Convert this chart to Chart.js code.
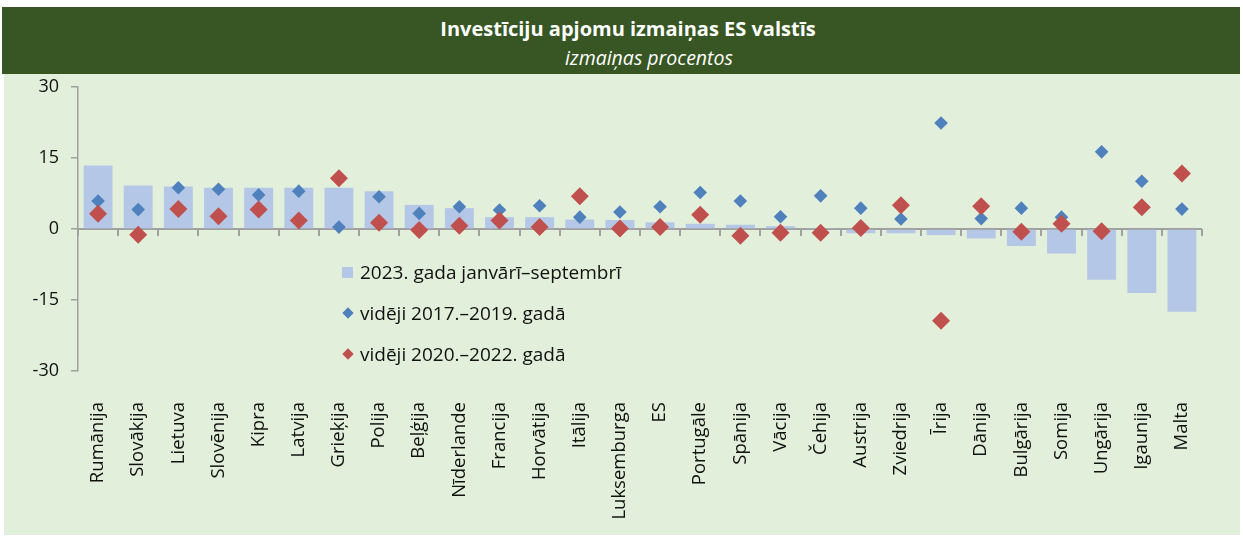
<!DOCTYPE html>
<html>
<head>
<meta charset="utf-8">
<script src="https://cdn.jsdelivr.net/npm/chart.js@4"></script>
<style>
  body { margin: 0; background: #fff; font-family: "Open Sans", sans-serif; }
  #hdr { position: absolute; left: 2px; top: 7px; width: 1238px; height: 67px; background: #375623; color: #fff; text-align: center; }
  #hdr .t { position: absolute; left: 14px; right: 0; top: 8px; font-size: 20px; font-weight: bold; }
  #hdr .s { position: absolute; left: 56px; right: 0; top: 37px; font-size: 19.5px; font-style: italic; }
  #wrap { position: absolute; left: 4px; top: 74px; width: 1236px; height: 461px; background: #e2efda; }
  #legend { position: absolute; left: 338px; top: 182px; font-size: 19px; color: #111; }
  #legend div { height: 41px; line-height: 33px; position: relative; padding-left: 18px; }
  #legend .sq { position: absolute; left: 0; top: 11px; width: 11px; height: 11px; background: #b4c7e7; }
  #legend .dm { position: absolute; left: 2px; top: 12px; width: 8px; height: 8px; transform: rotate(45deg); }
</style>
</head>
<body>
<div id="hdr">
  <div class="t">Investīciju apjomu izmaiņas ES valstīs</div>
  <div class="s">izmaiņas procentos</div>
</div>
<div id="wrap">
  <canvas id="chart" width="1236" height="461"></canvas>
  <div id="legend"></div>
</div>
<script>
const valstis = ['Rumānija', 'Slovākija', 'Lietuva', 'Slovēnija', 'Kipra', 'Latvija', 'Grieķija', 'Polija',
  'Beļģija', 'Nīderlande', 'Francija', 'Horvātija', 'Itālija', 'Luksemburga', 'ES', 'Portugāle', 'Spānija',
  'Vācija', 'Čehija', 'Austrija', 'Zviedrija', 'Īrija', 'Dānija', 'Bulgārija', 'Somija', 'Ungārija', 'Igaunija', 'Malta'];

const gads2023 = [13.4, 9.2, 9.0, 8.7, 8.7, 8.7, 8.7, 8.0, 5.1, 4.4, 2.5, 2.5, 2.0, 1.9, 1.4, 1.1, 0.9,
  0.6, 0.1, -0.9, -0.9, -1.3, -2.0, -3.6, -5.2, -10.7, -13.5, -17.5];

const vid2017_2019 = [5.9, 4.1, 8.7, 8.4, 7.2, 8.0, 0.4, 6.8, 3.3, 4.7, 4.0, 4.9, 2.5, 3.6, 4.7, 7.7, 5.9,
  2.6, 7.0, 4.4, 2.1, 22.4, 2.2, 4.4, 2.5, 16.3, 10.1, 4.2];

const vid2020_2022 = [3.2, -1.2, 4.2, 2.7, 4.1, 1.8, 10.7, 1.3, -0.2, 0.7, 1.8, 0.4, 6.9, 0.1, 0.4, 3.0, -1.4,
  -0.8, -0.8, 0.2, 5.0, -19.4, 4.8, -0.6, 1.1, -0.5, 4.6, 11.7];

const yTicks = [30, 15, 0, -15, -30];

const nosaukumi = ['2023. gada janvārī–septembrī', 'vidēji 2017.–2019. gadā', 'vidēji 2020.–2022. gadā'];
const krasas = ['#b4c7e7', '#4f81bd', '#c0504d'];

// legenda
const leg = document.getElementById('legend');
nosaukumi.forEach((n, i) => {
    const d = document.createElement('div');
    const m = document.createElement('span');
    m.className = i === 0 ? 'sq' : 'dm';
    m.style.background = krasas[i];
    d.appendChild(m);
    d.appendChild(document.createTextNode(n));
    leg.appendChild(d);
});

// nulles līnija ar iedaļām
const nullesLinija = {
    id: 'nullesLinija',
    beforeDatasetsDraw(chart) {
        const { ctx, chartArea, scales } = chart;
        const y0 = scales.y.getPixelForValue(0);
        ctx.save();
        ctx.strokeStyle = '#a0a0a0';
        ctx.lineWidth = 2;
        ctx.beginPath();
        ctx.moveTo(chartArea.left, y0);
        ctx.lineTo(chartArea.right, y0);
        for (let i = 0; i <= valstis.length; i++) {
            const x = Math.round(scales.x.getPixelForValue(i - 0.5));
            ctx.moveTo(x, y0);
            ctx.lineTo(x, y0 + 7);
        }
        ctx.stroke();
        ctx.restore();
    }
};

new Chart(document.getElementById('chart').getContext('2d'), {
    data: {
        labels: valstis,
        datasets: [
            {
                type: 'line',
                label: nosaukumi[2],
                data: vid2020_2022,
                showLine: false,
                pointStyle: 'rectRot',
                pointRadius: 9,
                pointBackgroundColor: krasas[2],
                pointBorderColor: krasas[2],
                pointBorderWidth: 0,
                order: 0
            },
            {
                type: 'line',
                label: nosaukumi[1],
                data: vid2017_2019,
                showLine: false,
                pointStyle: 'rectRot',
                pointRadius: 6.8,
                pointBackgroundColor: krasas[1],
                pointBorderColor: krasas[1],
                pointBorderWidth: 0,
                order: 1
            },
            {
                type: 'bar',
                label: nosaukumi[0],
                data: gads2023,
                backgroundColor: krasas[0],
                borderWidth: 0,
                barPercentage: 0.72,
                categoryPercentage: 1,
                order: 2
            }
        ]
    },
    options: {
        responsive: false,
        animation: false,
        layout: { padding: { left: 0, right: 38, top: 13, bottom: 0 } },
        plugins: {
            legend: { display: false },
            tooltip: { enabled: false }
        },
        scales: {
            x: {
                type: 'category',
                grid: { display: false, drawTicks: false },
                border: { display: false },
                ticks: {
                    minRotation: 90,
                    maxRotation: 90,
                    padding: 31,
                    autoSkip: false,
                    color: '#111',
                    font: { family: 'Open Sans', size: 18.5 }
                },
                afterFit(scale) { scale.height = 164; }
            },
            y: {
                min: -30,
                max: 30,
                afterBuildTicks(scale) { scale.ticks = yTicks.map(v => ({ value: v })); },
                grid: { drawOnChartArea: false, drawTicks: true, tickLength: 7, color: '#a0a0a0', lineWidth: 1.5 },
                border: { color: '#a0a0a0', width: 1.5 },
                ticks: {
                    padding: 12,
                    color: '#111',
                    font: { family: 'Open Sans', size: 18 }
                },
                afterFit(scale) {
                    scale.width = 74;
                    scale.paddingTop = 0;
                    scale.paddingBottom = 0;
                }
            }
        }
    },
    plugins: [nullesLinija]
});
</script>
</body>
</html>
